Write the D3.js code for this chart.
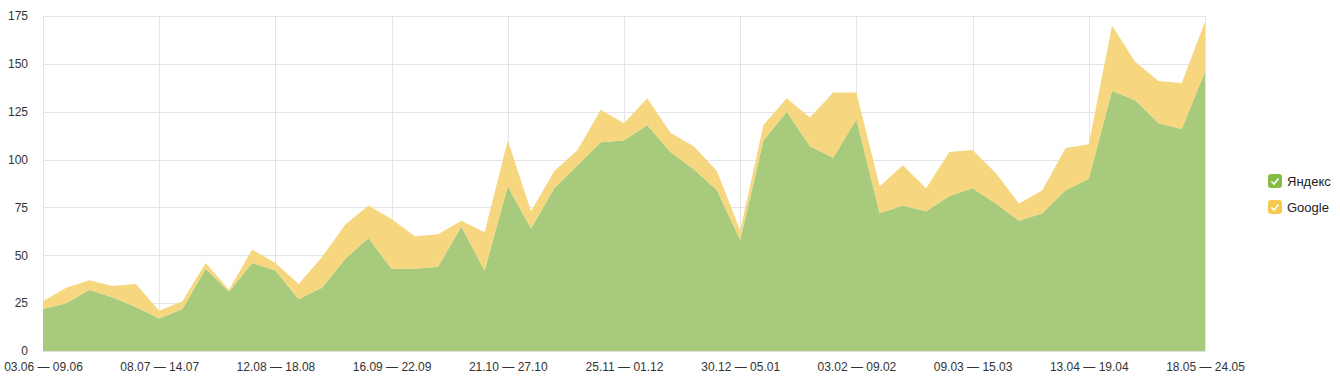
<!DOCTYPE html>
<html>
<head>
<meta charset="utf-8">
<script src="https://cdn.jsdelivr.net/npm/d3@7"></script>
<style>
  body { margin: 0; background: #fff; font-family: "Liberation Sans", Arial, sans-serif; }
  .grid line { stroke: #e5e5e5; }
  .tick text { fill: #333; font-size: 12px; }
</style>
</head>
<body>
<svg id="chart" width="1340" height="388"></svg>
<script>
// weekly points, label shown every 5th week
var weeks = [
  "03.06 — 09.06", "", "", "", "", "08.07 — 14.07", "", "", "", "",
  "12.08 — 18.08", "", "", "", "", "16.09 — 22.09", "", "", "", "",
  "21.10 — 27.10", "", "", "", "", "25.11 — 01.12", "", "", "", "",
  "30.12 — 05.01", "", "", "", "", "03.02 — 09.02", "", "", "", "",
  "09.03 — 15.03", "", "", "", "", "13.04 — 19.04", "", "", "", "",
  "18.05 — 24.05"
];
var yandex = [22, 25, 32, 28, 23, 17, 22, 43, 31, 46,
  42, 27, 33, 48, 59, 43, 43, 44, 65, 42,
  86, 64, 85, 97, 109, 110, 118, 104, 95, 84,
  58, 110, 125, 107, 101, 121, 72, 76, 73, 81,
  85, 77, 68, 72, 84, 90, 136, 131, 119, 116,
  146];
var google = [4, 8, 5, 6, 12, 4, 4, 3, 1, 7,
  4, 8, 16, 18, 17, 26, 17, 17, 3, 20,
  24, 9, 9, 8, 17, 9, 14, 10, 12, 10,
  5, 8, 7, 15, 34, 14, 14, 21, 12, 23,
  20, 16, 9, 12, 22, 18, 34, 20, 22, 24,
  26];
var yTicks = [0, 25, 50, 75, 100, 125, 150, 175];
var seriesNames = ["Яндекс", "Google"];
var areaColors = ["#a5c878", "#f6d67b"];
var legendColors = ["#86bb45", "#f6ca4f"];

var svg = d3.select("#chart");
var plotLeft = 43, plotRight = 1205, plotTop = 16, plotBottom = 351;

var x = d3.scaleLinear().domain([0, weeks.length - 1]).range([plotLeft, plotRight]);
var y = d3.scaleLinear().domain([0, 175]).range([plotBottom, plotTop]);

var rows = weeks.map(function (w, i) { return { i: i, yandex: yandex[i], google: google[i] }; });
var stack = d3.stack().keys(["yandex", "google"])(rows);

// grid
var labelIdx = weeks.map(function (w, i) { return i; }).filter(function (i) { return weeks[i] !== ""; });
svg.append("g").attr("class", "grid")
  .selectAll("line.h").data(yTicks).enter().append("line")
  .attr("x1", plotLeft).attr("x2", plotRight)
  .attr("y1", function (d) { return Math.round(y(d)) + 0.5; })
  .attr("y2", function (d) { return Math.round(y(d)) + 0.5; });
svg.append("g").attr("class", "grid")
  .selectAll("line.v").data(labelIdx).enter().append("line")
  .attr("y1", plotTop).attr("y2", plotBottom)
  .attr("x1", function (d) { return Math.round(x(d)) + 0.5; })
  .attr("x2", function (d) { return Math.round(x(d)) + 0.5; });

// stacked areas
var area = d3.area()
  .x(function (d) { return x(d.data.i); })
  .y0(function (d) { return y(d[0]); })
  .y1(function (d) { return y(d[1]); });
svg.append("g").selectAll("path").data(stack).enter().append("path")
  .attr("d", area)
  .attr("fill", function (d, i) { return areaColors[i]; })
  .attr("fill-opacity", 0.97);

// axes
var yAxis = d3.axisLeft(y).tickValues(yTicks).tickSize(0).tickPadding(15);
svg.append("g").attr("transform", "translate(" + plotLeft + ",0)").call(yAxis)
  .call(function (g) { g.select(".domain").remove(); })
  .selectAll("text").style("font-family", "Liberation Sans, Arial, sans-serif");

var xAxis = d3.axisBottom(x).tickValues(labelIdx)
  .tickFormat(function (d) { return weeks[d]; }).tickSize(0).tickPadding(11);
svg.append("g").attr("transform", "translate(0," + plotBottom + ")").call(xAxis)
  .call(function (g) { g.select(".domain").attr("stroke", "#e0e0e0"); })
  .selectAll("text").style("font-family", "Liberation Sans, Arial, sans-serif");

// legend
var legend = svg.append("g").attr("transform", "translate(1268,174)");
var item = legend.selectAll("g").data(seriesNames).enter().append("g")
  .attr("transform", function (d, i) { return "translate(0," + (i * 26) + ")"; });
item.append("rect").attr("width", 14).attr("height", 14).attr("rx", 3)
  .attr("fill", function (d, i) { return legendColors[i]; });
item.append("path").attr("d", "M3.5,7.5 L6,10 L10.5,4.5")
  .attr("fill", "none").attr("stroke", "#fff").attr("stroke-width", 1.6);
item.append("text").attr("x", 19).attr("y", 12)
  .attr("fill", "#222").style("font-size", "13px")
  .text(function (d) { return d; });
</script>
</body>
</html>
